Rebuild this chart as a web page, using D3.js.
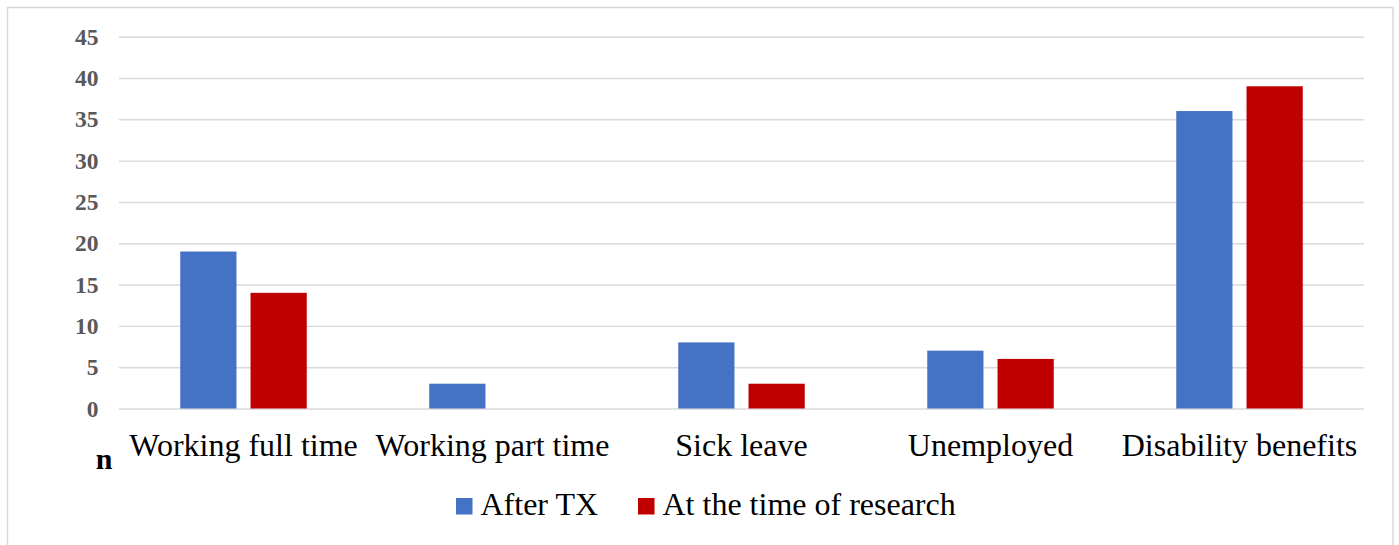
<!DOCTYPE html>
<html>
<head>
<meta charset="utf-8">
<script src="https://cdn.jsdelivr.net/npm/d3@7"></script>
<style>
  html, body { margin: 0; padding: 0; background: #fff; }
  svg { display: block; }
</style>
</head>
<body>
<svg id="chart" width="1399" height="545"></svg>
<script>
const categories = ["Working full time", "Working part time", "Sick leave", "Unemployed", "Disability benefits"];
const seriesNames = ["After TX", "At the time of research"];
const afterTX = [19, 3, 8, 7, 36];
const atResearch = [14, 0, 3, 6, 39];
const yTicks = [0, 5, 10, 15, 20, 25, 30, 35, 40, 45];
const colors = ["#4472C4", "#C00000"];

const seriesValues = [afterTX, atResearch];
const svg = d3.select("#chart");
const plot = { left: 119, right: 1364, top: 36.7, bottom: 408.5 };

// frame
svg.append("rect")
  .attr("x", 7.5).attr("y", 7.5)
  .attr("width", 1385.5).attr("height", 560)
  .attr("fill", "#fff").attr("stroke", "#d9d9d9").attr("stroke-width", 1.5);

const y = d3.scaleLinear().domain([0, 45]).range([plot.bottom, plot.top]);
const x0 = d3.scaleBand().domain(categories).range([plot.left, plot.right]).paddingInner(0).paddingOuter(0);
const inset = 61.25;
const x1 = d3.scaleBand().domain(seriesNames).range([inset, x0.bandwidth() - inset]).paddingInner(0.2).paddingOuter(0);

// gridlines
const grid = svg.append("g").attr("transform", `translate(${plot.left},0)`)
  .call(d3.axisLeft(y).tickValues(yTicks).tickSize(-(plot.right - plot.left)).tickFormat(""));
grid.select(".domain").remove();
grid.selectAll(".tick line").attr("stroke", "#d9d9d9").attr("stroke-width", 1.4);

// y tick labels
const yAxis = svg.append("g").attr("transform", `translate(${plot.left},0)`)
  .call(d3.axisLeft(y).tickValues(yTicks).tickSize(0).tickPadding(20.5));
yAxis.select(".domain").remove();
yAxis.selectAll(".tick text")
  .attr("fill", "#595959")
  .style("font-family", "'Liberation Serif', 'Times New Roman', serif")
  .style("font-weight", "bold")
  .style("font-size", "23.5px");

// bars
const groups = svg.append("g").selectAll("g")
  .data(categories)
  .join("g")
  .attr("transform", d => `translate(${x0(d)},0)`);

groups.selectAll("rect")
  .data((d, i) => seriesNames.map((s, k) => ({ s, v: seriesValues[k][i], k })))
  .join("rect")
  .attr("x", d => x1(d.s))
  .attr("width", x1.bandwidth())
  .attr("y", d => y(d.v))
  .attr("height", d => y(0) - y(d.v))
  .attr("fill", d => colors[d.k]);

// category labels
svg.append("g").selectAll("text")
  .data(categories)
  .join("text")
  .attr("x", d => x0(d) + x0.bandwidth() / 2)
  .attr("y", 456)
  .attr("text-anchor", "middle")
  .attr("fill", "#000")
  .style("font-family", "'Liberation Serif', 'Times New Roman', serif")
  .style("font-size", "32px")
  .text(d => d);

// "n" label
svg.append("text")
  .attr("x", 104).attr("y", 469)
  .attr("text-anchor", "middle")
  .style("font-family", "'Liberation Serif', 'Times New Roman', serif")
  .style("font-weight", "bold")
  .style("font-size", "30px")
  .text("n");

// legend
const legendItems = [
  { name: seriesNames[0], color: colors[0], sx: 456 },
  { name: seriesNames[1], color: colors[1], sx: 638 }
];
const lg = svg.append("g");
legendItems.forEach(it => {
  lg.append("rect").attr("x", it.sx).attr("y", 498).attr("width", 16.5).attr("height", 16.5).attr("fill", it.color);
  lg.append("text")
    .attr("x", it.sx + 24.5).attr("y", 515)
    .style("font-family", "'Liberation Serif', 'Times New Roman', serif")
    .style("font-size", "32px")
    .attr("fill", "#000")
    .text(it.name);
});
</script>
</body>
</html>
